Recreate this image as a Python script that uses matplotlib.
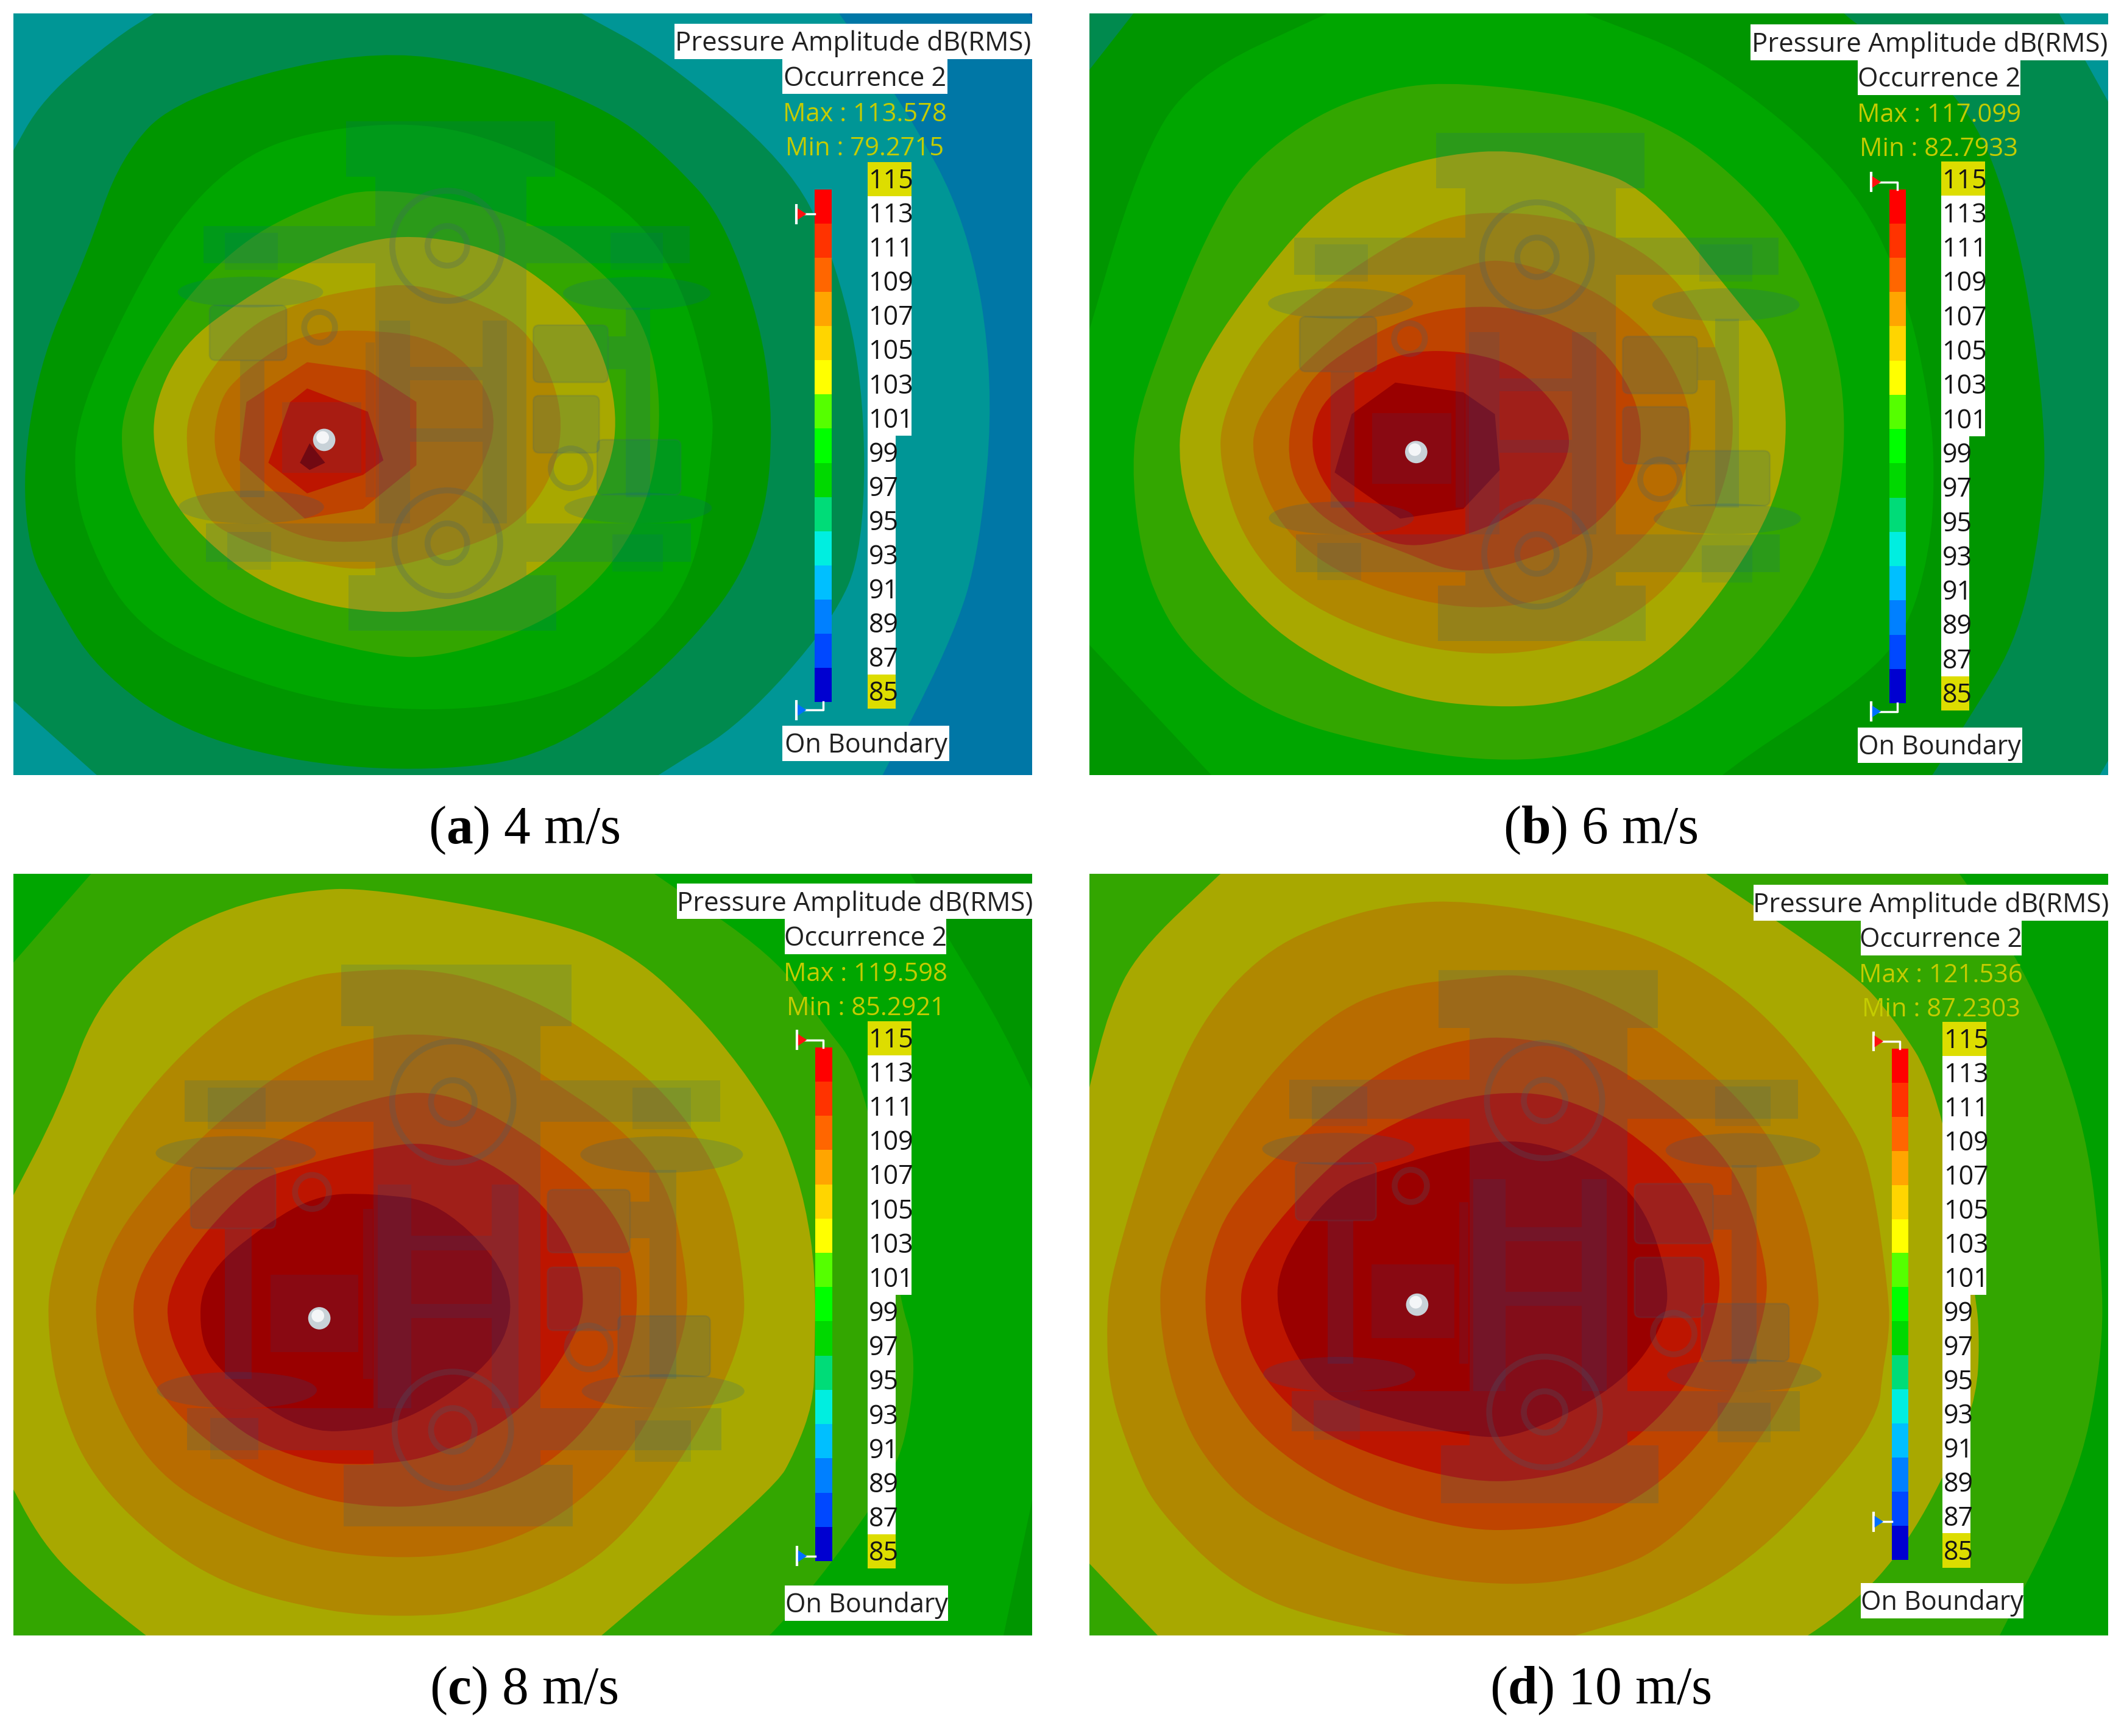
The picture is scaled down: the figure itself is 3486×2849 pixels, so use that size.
import matplotlib
matplotlib.use('Agg')
import matplotlib.pyplot as plt
from matplotlib.patches import Rectangle, Ellipse, Circle, FancyBboxPatch, PathPatch
from matplotlib.path import Path

plt.rcParams['mathtext.fontset'] = 'custom'
plt.rcParams['mathtext.bf'] = 'Liberation Serif:bold'
plt.rcParams['mathtext.rm'] = 'Liberation Serif'

# band colours seen on the plate, low to high
DEEP = '#0058a8'
BLUE = '#0077a6'
TEAL = '#009696'
SEA = '#008a4e'
G1 = '#009600'
G2 = '#00a600'
G3 = '#33a600'
OLIVE = '#a8a800'
BROWN = '#b08800'
ORANGE = '#b86c00'
RUST = '#bf4400'
RED = '#bd1500'
DARK = '#9a0000'
DEEPER = '#800000'

levels = [115, 113, 111, 109, 107, 105, 103, 101, 99, 97, 95, 93, 91, 89, 87, 85]
bar_colors = ['#0000d0', '#0048ff', '#0080ff', '#00bfff', '#00eee0', '#00dc78', '#00d800',
              '#00ff00', '#55ff00', '#ffff00', '#ffd500', '#ffa500', '#ff6600', '#ff3300', '#ff0000']

captions = ['a', 'b', 'c', 'd']
speeds = ['4', '6', '8', '10']
max_vals = ['113.578', '117.099', '119.598', '121.536']
min_vals = ['79.2715', '82.7933', '85.2921', '87.2303']

# contour outlines
a_blue = [(-50, -50), (2063, -50), (2150, 100), (2150, 1620), (-50, 1620)]
a_teal = [(-50, -50), (1665, -50), (1835, 190), (1966, 432), (2020, 756), (1991, 1102), (1933, 1292), (1763, 1620), (-50, 1620)]
a_sea = [(290, 0), (1170, 0), (1339, 92), (1593, 307), (1685, 483), (1752, 756), (1752, 1102), (1685, 1255), (1498, 1464),
         (1352, 1552), (1250, 1620), (230, 1620), (0, 1415), (-40, 1100), (-40, 700), (-10, 400), (-10, 300), (60, 175), (210, 50)]
a_g1 = [(720, 72), (340, 172), (220, 295), (150, 500), (60, 700), (20, 920), (30, 1100), (80, 1200), (170, 1350), (350, 1480),
        (600, 1545), (860, 1560), (1100, 1530), (1352, 1348), (1545, 1102), (1570, 756), (1472, 432), (1352, 299), (1230, 200), (1000, 110)]
a_g2 = [(850, 222), (620, 240), (470, 295), (340, 420), (240, 590), (130, 830), (125, 980), (160, 1100), (230, 1230), (350, 1320),
        (600, 1410), (830, 1438), (1060, 1420), (1230, 1350), (1400, 1180), (1440, 900), (1440, 800), (1380, 560), (1270, 400), (1050, 280)]
a_g3 = [(745, 352), (600, 400), (470, 470), (340, 600), (225, 800), (222, 930), (260, 1040), (350, 1160), (480, 1250), (760, 1325),
        (880, 1325), (1060, 1270), (1200, 1180), (1300, 1030), (1335, 860), (1320, 690), (1250, 560), (1060, 415)]
a_olive = [(850, 457), (730, 465), (600, 515), (470, 590), (350, 680), (290, 800), (288, 910), (340, 1030), (470, 1150), (600, 1210),
           (750, 1235), (870, 1228), (1010, 1190), (1140, 1100), (1230, 940), (1245, 810), (1200, 660), (1120, 570), (1000, 490)]
a_brown = [(840, 555), (720, 565), (600, 590), (470, 650), (360, 800), (355, 920), (390, 1040), (480, 1090), (600, 1130), (740, 1150),
           (900, 1110), (1030, 1060), (1110, 960), (1135, 830), (1090, 700), (1020, 620)]
a_orange = [(700, 648), (580, 665), (470, 740), (420, 800), (410, 920), (480, 1020), (600, 1085), (730, 1090), (850, 1060), (960, 960),
            (1005, 810), (890, 670)]
a_rust = [(605, 718), (480, 800), (465, 920), (600, 1040), (720, 1020), (830, 930), (830, 800), (730, 735)]
a_red = [(605, 772), (570, 800), (525, 925), (605, 988), (720, 950), (762, 920), (730, 820)]
a_dark = [(610, 885), (590, 925), (610, 940), (642, 925)]

b_sea = [(-50, -50), (1969, -50), (2150, 275), (2150, 1450), (2050, 1620), (-50, 1620)]
b_g1 = [(-50, 180), (130, -50), (1510, -50), (1568, 20), (1802, 160), (1915, 450), (1971, 850), (1961, 1050), (1915, 1280),
        (1819, 1440), (1702, 1620), (-50, 1620)]
b_g2 = [(490, 0), (1020, 0), (1280, 100), (1568, 340), (1681, 570), (1731, 800), (1741, 950), (1731, 1110), (1681, 1280), (1568, 1390),
        (1350, 1530), (1240, 1620), (300, 1620), (0, 1300), (-20, 720), (100, 310), (210, 130)]
b_g3 = [(770, 142), (630, 150), (470, 205), (320, 320), (240, 460), (170, 630), (100, 820), (88, 930), (100, 1070), (130, 1190), (200, 1310),
        (360, 1440), (600, 1510), (870, 1545), (1100, 1510), (1300, 1400), (1450, 1230), (1540, 1050), (1560, 830), (1530, 650), (1440, 450),
        (1280, 290), (1140, 210), (1000, 170)]
b_olive = [(870, 280), (740, 290), (620, 320), (510, 370), (400, 480), (250, 680), (190, 820), (183, 930), (215, 1060), (310, 1200),
           (430, 1310), (640, 1410), (870, 1432), (1020, 1410), (1170, 1340), (1300, 1200), (1420, 1000), (1440, 830), (1410, 680), (1340, 600),
           (1150, 360), (1000, 310)]
b_brown = [(780, 405), (660, 450), (490, 560), (360, 660), (270, 830), (270, 940), (320, 1090), (430, 1210), (640, 1300), (850, 1325),
           (1030, 1290), (1180, 1200), (1280, 1060), (1340, 850), (1280, 650), (1180, 510), (1000, 420)]
b_orange = [(860, 505), (780, 515), (600, 590), (460, 700), (340, 830), (335, 930), (400, 1070), (540, 1170), (770, 1232), (970, 1205),
            (1130, 1100), (1230, 960), (1245, 830), (1190, 700), (1100, 610), (1000, 550)]
b_rust = [(860, 600), (700, 610), (560, 670), (430, 770), (400, 930), (480, 1050), (640, 1105), (770, 1160), (950, 1110), (1050, 1050),
          (1130, 950), (1140, 820), (1070, 700), (980, 640)]
b_red = [(650, 695), (780, 695), (890, 730), (990, 840), (985, 930), (900, 1020), (780, 1075), (640, 1105), (540, 1040), (455, 930),
         (465, 810), (560, 740)]
b_dark = [(630, 760), (770, 780), (835, 825), (845, 940), (770, 1020), (640, 1040), (505, 945), (540, 825)]

c_g2 = [(-50, -50), (1818, -50), (1923, 130), (2040, 320), (2150, 560), (2150, 1200), (2098, 1290), (2028, 1620), (-50, 1620)]
c_g3 = [(160, 0), (1320, 0), (1568, 170), (1652, 290), (1756, 420), (1823, 870), (1856, 970), (1850, 1100), (1818, 1230), (1685, 1420),
        (1568, 1560), (1500, 1620), (-50, 1620), (-50, 240)]
c_olive = [(735, 28), (590, 35), (440, 70), (300, 140), (165, 280), (100, 470), (-20, 700), (-20, 1230), (60, 1380), (160, 1480), (340, 1620),
           (1150, 1620), (1568, 1265), (1610, 1190), (1647, 1090), (1650, 1000), (1652, 820), (1631, 680), (1597, 570), (1568, 505), (1500, 400),
           (1400, 280), (1280, 170), (1130, 100)]
c_brown = [(680, 200), (590, 215), (440, 280), (250, 470), (130, 680), (75, 830), (70, 940), (95, 1090), (160, 1240), (300, 1380), (450, 1470),
           (650, 1520), (800, 1530), (950, 1520), (1150, 1450), (1290, 1330), (1430, 1120), (1505, 950), (1505, 830), (1470, 640), (1350, 450),
           (1150, 300), (1000, 230), (860, 195)]
c_orange = [(860, 328), (740, 335), (590, 380), (430, 500), (250, 680), (170, 830), (170, 960), (210, 1100), (300, 1240), (450, 1330),
            (620, 1395), (830, 1412), (1000, 1385), (1150, 1310), (1290, 1170), (1385, 950), (1390, 830), (1350, 640), (1250, 520), (1100, 420), (1000, 355)]
c_rust = [(870, 445), (740, 460), (590, 520), (400, 640), (250, 820), (245, 960), (310, 1090), (450, 1210), (600, 1280), (740, 1305), (880, 1300),
          (1050, 1250), (1180, 1150), (1270, 1000), (1290, 860), (1260, 730), (1170, 620), (1000, 500)]
c_red = [(860, 550), (740, 565), (590, 600), (480, 640), (320, 830), (315, 960), (430, 1130), (590, 1210), (740, 1218), (870, 1200), (1050, 1110),
         (1170, 940), (1175, 830), (1120, 710), (1000, 600)]
c_dark = [(630, 660), (740, 658), (880, 675), (1030, 830), (1015, 980), (860, 1100), (740, 1145), (590, 1150), (430, 1030), (383, 960), (388, 830), (520, 720)]

d_g3 = [(-50, -50), (1756, -50), (1927, 190), (2049, 500), (2086, 800), (2086, 1000), (2032, 1260), (1848, 1620), (-50, 1620)]
d_olive = [(270, 0), (1270, 0), (1568, 200), (1652, 290), (1748, 440), (1827, 870), (1833, 970), (1827, 1070), (1790, 1180), (1685, 1380), (1568, 1510),
           (1400, 1620), (190, 1620), (0, 1420), (-20, 1000), (0, 440), (40, 280), (100, 160)]
d_brown = [(780, 55), (640, 60), (500, 95), (360, 160), (230, 300), (140, 510), (45, 820), (35, 920), (40, 1060), (90, 1210), (140, 1310), (300, 1470),
           (500, 1545), (870, 1600), (1000, 1568), (1200, 1510), (1380, 1400), (1568, 1200), (1627, 1100), (1631, 1040), (1647, 950), (1647, 870), (1610, 610),
           (1568, 510), (1400, 290), (1200, 150), (1000, 90)]
d_orange = [(900, 205), (780, 215), (640, 230), (510, 280), (370, 410), (240, 600), (150, 800), (143, 910), (170, 1060), (230, 1200), (360, 1330),
            (640, 1440), (870, 1468), (1050, 1445), (1200, 1380), (1400, 1150), (1503, 930), (1500, 830), (1470, 680), (1380, 500), (1200, 340), (1050, 250)]
d_rust = [(880, 335), (770, 340), (640, 380), (500, 480), (300, 660), (240, 800), (238, 940), (280, 1060), (370, 1180), (550, 1290), (770, 1352), (920, 1350),
          (1050, 1330), (1200, 1240), (1330, 1080), (1395, 900), (1395, 800), (1340, 620), (1230, 500), (1050, 370)]
d_red = [(900, 447), (760, 460), (630, 510), (500, 590), (315, 800), (310, 940), (370, 1060), (500, 1170), (770, 1255), (950, 1245), (1100, 1190), (1240, 1050),
         (1295, 900), (1300, 800), (1230, 630), (1100, 520), (1000, 470)]
d_dark = [(900, 545), (770, 560), (600, 610), (500, 650), (390, 800), (385, 915), (460, 1050), (540, 1100), (790, 1163), (900, 1155), (1100, 1050), (1190, 920),
          (1190, 820), (1140, 680), (1050, 600)]

bands = [
    (DEEP, [(BLUE, a_blue), (TEAL, a_teal), (SEA, a_sea), (G1, a_g1), (G2, a_g2), (G3, a_g3), (OLIVE, a_olive),
            (BROWN, a_brown), (ORANGE, a_orange), (RUST, a_rust), (RED, a_red), (DEEPER, a_dark)]),
    (TEAL, [(SEA, b_sea), (G1, b_g1), (G2, b_g2), (G3, b_g3), (OLIVE, b_olive), (BROWN, b_brown), (ORANGE, b_orange),
            (RUST, b_rust), (RED, b_red), (DARK, b_dark)]),
    (G1, [(G2, c_g2), (G3, c_g3), (OLIVE, c_olive), (BROWN, c_brown), (ORANGE, c_orange), (RUST, c_rust), (RED, c_red), (DARK, c_dark)]),
    ('#00a000', [(G3, d_g3), (OLIVE, d_olive), (BROWN, d_brown), (ORANGE, d_orange), (RUST, d_rust), (RED, d_red), (DARK, d_dark)]),
]

# the grey bogie model seen through the plate, in plate (c) units
model_rects = [(675, 187, 475, 126), (742, 313, 343, 904), (680, 1217, 472, 126), (352, 425, 390, 85), (1085, 425, 370, 85),
               (357, 1100, 385, 87), (1085, 1100, 373, 87), (1310, 610, 55, 430), (1270, 675, 40, 75), (435, 730, 55, 310)]
model_ellipses = [(458, 575, 330, 70), (1335, 578, 335, 75), (460, 1063, 330, 75), (1338, 1065, 335, 70)]
model_boxes = [(365, 605, 175, 125), (1245, 910, 190, 125), (1100, 650, 170, 130), (1100, 810, 150, 130)]
model_dark = [(750, 640, 70, 460), (985, 640, 55, 460), (820, 745, 165, 30), (820, 885, 165, 30), (530, 825, 180, 160),
              (720, 690, 20, 350), (400, 440, 120, 85), (1275, 440, 120, 85), (405, 1120, 100, 85), (1280, 1125, 115, 85)]
model_rings = [(905, 470, 125), (905, 470, 45), (905, 1145, 120), (905, 1145, 45), (1185, 975, 45), (615, 655, 35)]

# panel placing: axes box in figure pixels, model centre and scale, sphere, legend offsets
panel_px = [(22, 22), (1788, 22), (22, 1434), (1788, 1434)]
model_place = [(900, 746, 0.907), (928, 769, 0.905), (912, 765, 1.0), (944, 747, 0.95)]
sphere = [(640, 878), (673, 903), (630, 915), (675, 887)]
title_left = [1361, 1362, 1367, 1368]
title_y = [21, 23, 20, 23]
note_x = [1584, 1582, 1589, 1588]
note_w = [339, 335, 332, 332]
bar_x = [1650, 1647, 1651, 1652]
bar_y = [(363, 1417), (362, 1420), (357, 1415), (360, 1412)]
cell_x = [1759, 1754, 1759, 1757]
cell_y = [(306, 1431), (305, 1435), (303, 1430), (305, 1428)]
bound_y = [1466, 1470, 1465, 1460]

W, H = 3487, 2849
PW, PH = 1672, 1250
UW, UH = 2098, 1568
TXT = 'Open Sans'
TINT = '#005aa8'
LINE = '#406070'

fig = plt.figure(figsize=(W / 100, H / 100), dpi=100, facecolor='white')


def box_text(ax, x, y, w, h, s, fs=30):
    ax.add_patch(Rectangle((x, y), w, h, fc='white', ec='none', zorder=5))
    ax.text(x + w / 2, y + h / 2 + 5, s, ha='center', va='center', fontsize=fs, family=TXT, color='#202020', zorder=6)


def band_path(pts):
    # rounded outline through the edge midpoints; short outlines and off-plate corners stay sharp
    n = len(pts)
    mids = [((pts[k][0] + pts[(k + 1) % n][0]) / 2, (pts[k][1] + pts[(k + 1) % n][1]) / 2) for k in range(n)]
    verts = [mids[-1]]
    codes = [Path.MOVETO]
    for k, p in enumerate(pts):
        inside = n > 8 and 0 < p[0] < UW and 0 < p[1] < UH
        verts += [p, mids[k]]
        codes += [Path.CURVE3, Path.CURVE3] if inside else [Path.LINETO, Path.LINETO]
    return Path(verts, codes)


def draw_model(ax, cx, cy, s):
    def X(v):
        return cx + s * (v - 912)

    def Y(v):
        return cy + s * (v - 765)

    for x, y, w, h in model_rects:
        ax.add_patch(Rectangle((X(x), Y(y)), w * s, h * s, fc=TINT, ec='none', alpha=0.15, zorder=2))
    for x, y, w, h in model_ellipses:
        ax.add_patch(Ellipse((X(x), Y(y)), w * s, h * s, fc=TINT, ec='none', alpha=0.17, zorder=2))
    for x, y, w, h in model_boxes:
        ax.add_patch(FancyBboxPatch((X(x), Y(y)), w * s, h * s, boxstyle='round,pad=0,rounding_size=12',
                                    fc=TINT, ec=LINE, lw=2, alpha=0.17, zorder=2))
    for x, y, w, h in model_dark:
        ax.add_patch(Rectangle((X(x), Y(y)), w * s, h * s, fc=TINT, ec='none', alpha=0.11, zorder=2))
    for x, y, r in model_rings:
        ax.add_patch(Circle((X(x), Y(y)), r * s, fill=False, ec=LINE, lw=7, alpha=0.25, zorder=2))


for i in range(4):
    px, py = panel_px[i]
    ax = fig.add_axes([px / W, 1 - (py + PH) / H, PW / W, PH / H])
    ax.set_xlim(0, UW)
    ax.set_ylim(UH, 0)
    ax.axis('off')
    ax.add_patch(Rectangle((0, 0), UW, UH, fc=bands[i][0], ec='none', zorder=0))
    for col, outline in bands[i][1]:
        ax.add_patch(PathPatch(band_path(outline), fc=col, ec='none', lw=0, zorder=1))

    draw_model(ax, *model_place[i])

    sx, sy = sphere[i]
    ax.add_patch(Circle((sx, sy), 23, fc='#c8d2d8', ec='none', zorder=3))
    ax.add_patch(Circle((sx - 3, sy - 5), 13, fc='#f4f6f8', ec='none', zorder=3))

    # legend titles
    left = title_left[i]
    box_text(ax, left, title_y[i], UW - left, 73, 'Pressure Amplitude dB(RMS)', fs=31.5)
    box_text(ax, note_x[i], title_y[i] + 73, note_w[i], 72, 'Occurrence 2', fs=31)
    ax.text(note_x[i] + note_w[i] / 2, title_y[i] + 187, 'Max : ' + max_vals[i], ha='center', va='center',
            fontsize=30, family=TXT, color='#c4cc00', zorder=6)
    ax.text(note_x[i] + note_w[i] / 2, title_y[i] + 257, 'Min : ' + min_vals[i], ha='center', va='center',
            fontsize=30, family=TXT, color='#c4cc00', zorder=6)
    box_text(ax, note_x[i], bound_y[i], note_w[i] + 4, 73, 'On Boundary', fs=31)

    # colour bar, drawn on its own 85-115 scale
    y0, y1 = bar_y[i]
    bx = bar_x[i]
    cb = ax.inset_axes([bx / UW, 1 - y1 / UH, 35 / UW, (y1 - y0) / UH], zorder=4)
    cb.bar(0, 2, bottom=levels[-1:0:-1], width=1, color=bar_colors, align='center')
    cb.set_xlim(-0.5, 0.5)
    cb.set_ylim(85, 115)
    cb.axis('off')

    # max and min flags, clamped to just outside the bar when off scale
    for val, col, off in [(float(max_vals[i]), '#ff1010', -15), (float(min_vals[i]), '#0070ff', 17)]:
        fx = bx - 37
        if 85 <= val <= 115:
            fy = y0 + (115 - val) / 30 * (y1 - y0)
            ax.plot([fx + 15, bx], [fy, fy], color='white', lw=2.5, zorder=5)
        else:
            fy = y0 + off if off < 0 else y1 + off
            ax.plot([fx + 15, bx + 17, bx + 17], [fy, fy, y0 if off < 0 else y1], color='white', lw=2.5, zorder=5)
        ax.plot([fx, fx], [fy - 18, fy + 18], color='white', lw=3, zorder=5)
        ax.fill([fx + 2, fx + 20, fx + 2], [fy - 12, fy, fy + 12], color=col, lw=0, zorder=6)

    # level cells, the three digit ones are wider
    c0, c1 = cell_y[i]
    row = (c1 - c0) / len(levels)
    for k, lev in enumerate(levels):
        w = 90 if lev >= 101 else 58
        y = c0 + k * row
        ax.add_patch(Rectangle((cell_x[i], y), w, row + 0.5, fc='#dddd00' if lev in (115, 85) else 'white', ec='none', zorder=5))
        ax.text(cell_x[i] + 2, y + row / 2 + 5, str(lev), ha='left', va='center', fontsize=31, family=TXT,
                color='#151515', zorder=6)

    fig.text((860 if i % 2 == 0 else 2627) / W, 1 - (py + PH + 91) / H,
             r'($\mathbf{%s}$) %s m/s' % (captions[i], speeds[i]), ha='center', va='center',
             fontsize=63, family='Liberation Serif', color='black')

fig.savefig('out.png', dpi=100, facecolor='white')
